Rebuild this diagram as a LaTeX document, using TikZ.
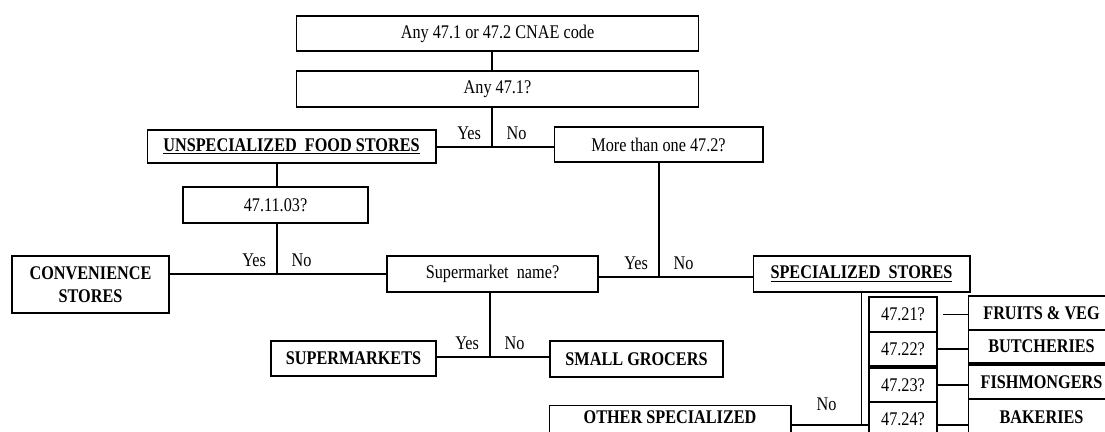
\documentclass[tikz,border=0pt]{standalone}
\usepackage{fontspec}
\setmainfont{Liberation Serif}[FakeStretch=0.84]
\begin{document}
\begin{tikzpicture}[x=0.02cm,y=-0.02cm,line width=0.6pt,
	font=\fontsize{11}{13}\selectfont,
	box/.style={draw,rectangle,inner sep=0pt,align=center},
	catbox/.style={box,font=\fontsize{11}{13}\selectfont\bfseries},
	lab/.style={inner sep=3pt},
	yeslab/.style={lab,above left,xshift=-3pt,yshift=1pt},
	nolab/.style={lab,above right,xshift=5pt,yshift=1pt}]
	\useasboundingbox (0,0) rectangle (1105,432);
	\clip (0,0) rectangle (1105,432);

	\coordinate (J1) at (492,147);
	\coordinate (J2) at (277,274);
	\coordinate (J3) at (659,277);
	\coordinate (J4) at (490,357);
	\coordinate (SV) at (861.5,425);

	\node[box,minimum width=8.06cm,minimum height=0.70cm] (Code) at (497.5,33.5) {Any 47.1 or 47.2 CNAE code};
	\node[box,minimum width=8.06cm,minimum height=0.72cm] (Any) at (497.5,89) {Any 47.1?};
	\node[catbox,minimum width=5.78cm,minimum height=0.66cm] (Unspec) at (291.5,146.5) {\underline{UNSPECIALIZED\ \ FOOD STORES}};
	\node[box,minimum width=4.18cm,minimum height=0.70cm] (More) at (658.5,144.5) {More than one 47.2?};
	\node[box,minimum width=3.70cm,minimum height=0.72cm] (Q11) at (275.5,205) {47.11.03?};
	\node[catbox,minimum width=3.14cm,minimum height=1.14cm] (Conv) at (90.5,284.5) {CONVENIENCE\\STORES};
	\node[box,minimum width=4.22cm,minimum height=0.72cm] (SmName) at (492.5,274) {Supermarket\ \ name?};
	\node[catbox,minimum width=4.34cm,minimum height=0.72cm] (Spec) at (861.5,274) {\underline{SPECIALIZED\ \ STORES}};
	\node[catbox,minimum width=3.30cm,minimum height=0.70cm] (Supm) at (353.5,358.5) {SUPERMARKETS};
	\node[catbox,minimum width=3.46cm,minimum height=0.72cm] (Small) at (636.5,359) {SMALL GROCERS};
	\node[catbox,anchor=north,minimum width=4.84cm,inner ysep=3pt,text depth=1.2cm] (Other) at (670,405) {OTHER SPECIALIZED};

	\node[box,minimum width=1.36cm,minimum height=0.70cm] (Q21) at (903,314.5) {47.21?};
	\node[box,minimum width=1.36cm,minimum height=0.68cm] (Q22) at (903,349) {47.22?};
	\node[box,minimum width=1.36cm,minimum height=0.68cm] (Q23) at (903,385) {47.23?};
	\node[box,minimum width=1.36cm,minimum height=0.70cm] (Q24) at (903,419.5) {47.24?};

	\node[catbox,minimum width=2.94cm,minimum height=0.68cm] (Fruits) at (1041.5,313) {FRUITS \& VEG};
	\node[catbox,minimum width=2.94cm,minimum height=0.66cm] (Butch) at (1041.5,346.5) {BUTCHERIES};
	\node[catbox,minimum width=2.94cm,minimum height=0.68cm] (Fish) at (1041.5,382) {FISHMONGERS};
	\node[catbox,minimum width=2.94cm,minimum height=0.72cm] (Bake) at (1041.5,417) {BAKERIES};

	\draw (Code.south -| J1) -- (Any.north -| J1);
	\draw (Any.south -| J1) -- (J1) node[yeslab] (Yes1) {Yes} node[nolab] (No1) {No};
	\draw (Unspec.east |- J1) -- (More.west |- J1);

	\draw (Unspec.south -| J2) -- (Q11.north -| J2);
	\draw (Q11.south -| J2) -- (J2) node[yeslab] (Yes2) {Yes} node[nolab] (No2) {No};
	\draw (Conv.east |- J2) -- (SmName.west |- J2);

	\draw (More.south -| J3) -- (J3) node[yeslab] (Yes3) {Yes} node[nolab] (No3) {No};
	\draw (SmName.east |- J3) -- (Spec.west |- J3);

	\draw (SmName.south -| J4) -- (J4) node[yeslab] (Yes4) {Yes} node[nolab] (No4) {No};
	\draw (Supm.east |- J4) -- (Small.west |- J4);

	\draw (Spec.south) -- (SV);
	\draw (Other.east |- SV) -- node[lab,above=5pt] (No5) {No} (SV) -- (Q24.west |- SV);

	\draw ([xshift=3pt]Q21.east) -- (Q21.east -| Fruits.west);
	\draw (Q22.east) -- (Q22.east -| Butch.west);
	\draw (Q23.east) -- (Q23.east -| Fish.west);
	\draw (Q24.east |- SV) -- (Bake.west |- SV);
\end{tikzpicture}
\end{document}
